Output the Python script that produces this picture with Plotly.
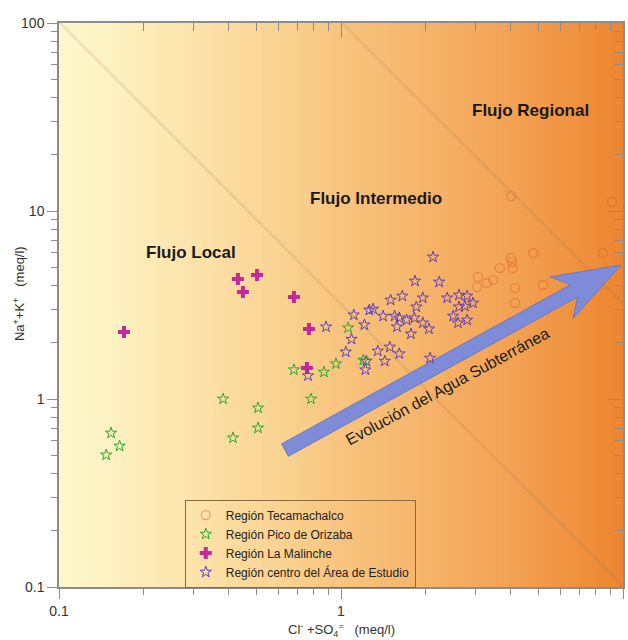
import numpy as np
import plotly.graph_objects as go

# ---------------- data ----------------
teca_x = [4.01, 9.14, 4.80, 8.49, 4.01, 4.04, 3.66, 4.07, 3.06, 3.46, 3.29, 3.04, 4.14, 5.20, 4.14]
teca_y = [12.0, 11.2, 5.98, 5.98, 5.62, 5.35, 4.97, 4.97, 4.46, 4.30, 4.14, 3.94, 3.89, 4.04, 3.24]

pico_x = [0.153, 0.164, 0.147, 0.382, 0.508, 0.508, 0.414, 0.681, 0.783, 0.870, 0.960, 1.06, 1.20]
pico_y = [0.659, 0.562, 0.504, 1.00, 0.896, 0.701, 0.621, 1.43, 1.00, 1.39, 1.54, 2.39, 1.61]

mal_x = [0.170, 0.431, 0.504, 0.449, 0.681, 0.770, 0.757]
mal_y = [2.27, 4.35, 4.57, 3.71, 3.49, 2.36, 1.46]

cen_x = [2.12, 1.83, 2.23, 1.50, 1.65, 1.95, 2.38, 2.62, 2.80, 1.85, 2.62, 2.75, 2.94,
         1.26, 1.30, 1.11, 1.41, 1.55, 1.61, 1.71, 1.82, 1.58, 1.95, 2.05, 2.50, 2.60,
         2.80, 1.77, 1.21, 0.885, 1.09, 1.04, 1.35, 1.49, 1.61, 1.43, 1.23, 1.22, 0.764, 2.07]
cen_y = [5.69, 4.24, 4.19, 3.36, 3.53, 3.45, 3.45, 3.57, 3.53, 3.09, 3.09, 3.12, 3.24,
         2.97, 3.01, 2.80, 2.76, 2.76, 2.70, 2.63, 2.70, 2.42, 2.54, 2.36, 2.76, 2.54,
         2.63, 2.22, 2.48, 2.42, 2.08, 1.78, 1.80, 1.89, 1.74, 1.59, 1.59, 1.43, 1.33, 1.65]

# flow boundaries (x, y pairs)
line1_x = [0.1, 10]
line1_y = [100, 0.1]
line2_x = [1, 10]
line2_y = [100, 3.162]

# arrow tail / tip (data coords)
arrow_tail = (0.633, 0.535)
arrow_tip = (9.84, 5.16)

x_ticks = [0.1, 1, 10]
x_ticklabels = ["0.1", "1", "10"]
y_ticks = [0.1, 1, 10, 100]
y_ticklabels = ["0.1", "1", "10", "100"]
minor_x = [m * d for d in (0.1, 1) for m in range(2, 10)]
minor_y = [m * d for d in (0.1, 1, 10) for m in range(2, 10)]

# ---------------- figure ----------------
FONT = "Liberation Sans, Arial, sans-serif"
fig = go.Figure()

# background gradient (yellow -> orange)
stops = [(0.0, (253, 248, 205)), (0.1, (253, 241, 192)), (0.25, (252, 226, 168)),
         (0.4, (250, 210, 144)), (0.5, (248, 196, 126)), (0.65, (246, 180, 106)),
         (0.8, (243, 162, 84)), (0.9, (240, 148, 66)), (1.0, (237, 133, 48))]
sx = [s[0] for s in stops]
N = 160
for i in range(N):
    f = (i + 0.5) / N
    rgb = [int(round(np.interp(f, sx, [s[1][k] for s in stops]))) for k in range(3)]
    fig.add_shape(type="rect", xref="paper", yref="paper", x0=i / N, x1=(i + 1) / N + 0.002,
                  y0=0, y1=1, fillcolor=f"rgb({rgb[0]},{rgb[1]},{rgb[2]})",
                  line=dict(width=0), layer="below")

# double boundary lines
off = 1.018
for lx, ly in ((line1_x, line1_y), (line2_x, line2_y)):
    for k in (1.0, off):
        fig.add_trace(go.Scatter(x=[v * k for v in lx], y=ly, mode="lines",
                                 line=dict(color="rgba(160,110,60,0.35)", width=0.8),
                                 showlegend=False, hoverinfo="skip"))

# arrow polygon built in domain space (plot area is square)
def to_dom(x, y):
    return ((np.log10(x) + 1) / 2, (np.log10(y) + 1) / 3)

u0, v0 = to_dom(*arrow_tail)
u1, v1 = to_dom(*arrow_tip)
d = np.array([u1 - u0, v1 - v0])
L = np.linalg.norm(d)
t = d / L
n = np.array([-t[1], t[0]])
w, hw, hl, sb = 0.0125, 0.042, 0.095, 0.025
pts_tn = [(0, w), (L - hl, w), (L - hl - sb, hw), (L, 0), (L - hl - sb, -hw), (L - hl, -w), (0, -w), (0, w)]
ax_, ay_ = [], []
for a, b in pts_tn:
    p = np.array([u0, v0]) + a * t + b * n
    ax_.append(10 ** (2 * p[0] - 1))
    ay_.append(10 ** (3 * p[1] - 1))
fig.add_trace(go.Scatter(x=ax_, y=ay_, mode="lines", fill="toself",
                         fillcolor="#7d8bd9", line=dict(color="#6a78c8", width=1),
                         showlegend=False, hoverinfo="skip"))

# data series
fig.add_trace(go.Scatter(x=teca_x, y=teca_y, mode="markers", name="Región Tecamachalco",
                         marker=dict(symbol="circle-open", size=9, color="rgba(222,100,50,0.5)",
                                     line=dict(width=1.3))))
fig.add_trace(go.Scatter(x=pico_x, y=pico_y, mode="markers", name="Región Pico de Orizaba",
                         marker=dict(symbol="star-open", size=8.5, color="#2aa82a",
                                     line=dict(width=1))))
fig.add_trace(go.Scatter(x=mal_x, y=mal_y, mode="markers", name="Región La Malinche",
                         marker=dict(symbol="cross", size=10, color="#c42a9e",
                                     line=dict(width=0))))
fig.add_trace(go.Scatter(x=cen_x, y=cen_y, mode="markers", name="Región centro del Área de Estudio",
                         marker=dict(symbol="star-open", size=8.5, color="#6040b8",
                                     line=dict(width=1))))

# dummy trace for top/right tick axes
fig.add_trace(go.Scatter(x=[None], y=[None], xaxis="x2", yaxis="y2", showlegend=False,
                         hoverinfo="skip"))

# annotations
labels = [("Flujo Regional", 4.68, 34.4), ("Flujo Intermedio", 1.33, 11.7), ("Flujo Local", 0.294, 6.05)]
for txt, x, y in labels:
    fig.add_annotation(x=np.log10(x), y=np.log10(y), text=f"<b>{txt}</b>", showarrow=False,
                       font=dict(family=FONT, size=17, color="#1a1a1a"))
fig.add_annotation(x=np.log10(2.38), y=np.log10(1.17), text="Evolución del Agua Subterránea",
                   showarrow=False, textangle=-28.5,
                   font=dict(family=FONT, size=16, color="#1a1a1a"))
# axis titles
fig.add_annotation(xref="paper", yref="paper", x=0.5, y=-0.077, yanchor="middle",
                   text="Cl<sup>-</sup> +SO<sub>4</sub><sup>=</sup>   (meq/l)", showarrow=False,
                   font=dict(family=FONT, size=13, color="#333333"))
fig.add_annotation(xref="paper", yref="paper", x=-0.072, y=0.52, xanchor="center",
                   text="Na<sup>+</sup>+K<sup>+</sup>   (meq/l)", showarrow=False, textangle=-90,
                   font=dict(family=FONT, size=13, color="#333333"))

axis_common = dict(type="log", showgrid=False, zeroline=False, showline=True, automargin=False,
                   linecolor="#8c8c8c", linewidth=1.5, tickcolor="#8c8c8c",
                   tickfont=dict(family=FONT, size=14, color="#333333"))

fig.update_layout(
    width=628, height=640,
    margin=dict(l=59, r=5, t=23, b=53),
    paper_bgcolor="white", plot_bgcolor="rgba(0,0,0,0)",
    xaxis=dict(**axis_common, range=[-1, 1], tickmode="array", tickvals=x_ticks,
               ticktext=x_ticklabels, ticks="outside", ticklen=10, tickwidth=1,
               minor=dict(tickmode="array", tickvals=minor_x, ticks="outside", ticklen=6,
                          tickcolor="#8c8c8c", showgrid=False)),
    yaxis=dict(**axis_common, range=[-1, 2], tickmode="array", tickvals=y_ticks,
               ticktext=y_ticklabels, ticks="outside", ticklen=10, tickwidth=1,
               minor=dict(tickmode="array", tickvals=minor_y, ticks="outside", ticklen=6,
                          tickcolor="#8c8c8c", showgrid=False)),
    xaxis2=dict(**axis_common, range=[-1, 1], overlaying="x", side="top", tickmode="array",
                tickvals=x_ticks, ticks="inside", ticklen=15, showticklabels=False,
                minor=dict(tickmode="array", tickvals=minor_x, ticks="inside", ticklen=8,
                           tickcolor="#8c8c8c", showgrid=False)),
    yaxis2=dict(**axis_common, range=[-1, 2], overlaying="y", side="right", tickmode="array",
                tickvals=y_ticks, ticks="inside", ticklen=15, showticklabels=False,
                minor=dict(tickmode="array", tickvals=minor_y, ticks="inside", ticklen=8,
                           tickcolor="#8c8c8c", showgrid=False)),
    legend=dict(x=0.223, y=0.155, xanchor="left", yanchor="top",
                bgcolor="rgba(0,0,0,0)", bordercolor="#8b6a3a", borderwidth=1,
                font=dict(family=FONT, size=12, color="#222222"),
                itemwidth=30, tracegroupgap=0),
    showlegend=True,
)

fig.write_html("out.html", config={"displayModeBar": False},
               post_script="document.body.style.margin='0';document.body.style.overflow='hidden';")
